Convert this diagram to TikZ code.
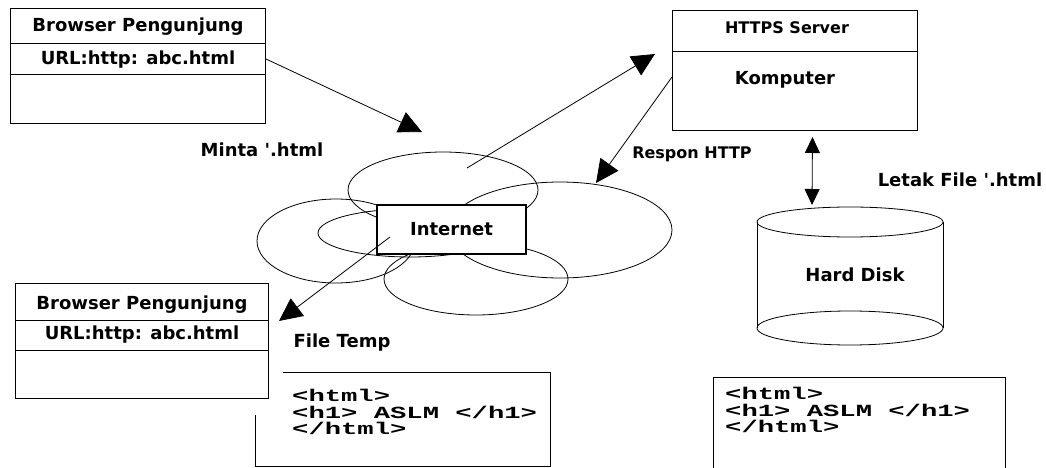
\documentclass[tikz,border=0pt]{standalone}
\usepackage{fontspec}
\setmainfont{DejaVu Sans}
\newfontfamily\codefont[FakeStretch=1.6]{Liberation Mono}
\usetikzlibrary{arrows.meta}

\begin{document}
\begin{tikzpicture}[
              x = 1pt, y = -1pt,
              panel/.style = {draw, line width=1pt, anchor=north west, inner sep=0pt},
              lbl/.style = {font=\bfseries\fontsize{18}{20}\selectfont, inner sep=0pt},
              small/.style = {lbl, font=\bfseries\fontsize{16}{18}\selectfont},
              code/.style = {font=\codefont\bfseries\fontsize{17}{16.5}\selectfont,
                             align=left, anchor=north west, inner sep=0pt},
              blob/.style = {draw, line width=0.8pt},
              msg/.style = {draw, line width=0.8pt, -{Triangle[length=23pt,width=22pt]}},
              link/.style = {draw, line width=0.8pt,
                             {Triangle[length=16pt,width=15pt]}-{Triangle[length=16pt,width=15pt]}}
            ]
            \useasboundingbox (0,0) rectangle (1046,468);

            % browser (request side)
            \node[panel, minimum width=255pt, minimum height=115pt] (brwtop) at (10,8) {};
            \draw[line width=1pt] ([yshift=-36pt]brwtop.north west) -- ([yshift=-36pt]brwtop.north east);
            \draw[line width=1pt] ([yshift=-67pt]brwtop.north west) -- ([yshift=-67pt]brwtop.north east);
            \node[lbl] (brwtoptitle) at ([yshift=-19pt]brwtop.north) {Browser Pengunjung};
            \node[lbl] (brwtopurl) at ([yshift=-52pt]brwtop.north) {URL:http: abc.html};

            % browser (result side)
            \node[panel, minimum width=253pt, minimum height=115pt] (brwbot) at (15,283) {};
            \draw[line width=1pt] ([yshift=-37pt]brwbot.north west) -- ([yshift=-37pt]brwbot.north east);
            \draw[line width=1pt] ([yshift=-67pt]brwbot.north west) -- ([yshift=-67pt]brwbot.north east);
            \node[lbl] (brwbottitle) at ([yshift=-22pt]brwbot.north) {Browser Pengunjung};
            \node[lbl] (brwboturl) at ([yshift=-52pt]brwbot.north) {URL:http: abc.html};

            % server
            \node[panel, minimum width=245pt, minimum height=120pt] (sv) at (672,10) {};
            \draw[line width=1pt] ([yshift=-42pt]sv.north west) -- ([yshift=-42pt]sv.north east);
            \node[small] (svtitle) at ([xshift=-8pt,yshift=-18pt]sv.north) {HTTPS Server};
            \node[lbl] (svpc) at ([xshift=-10pt,yshift=-70pt]sv.north) {Komputer};

            % internet cloud
            \draw[blob] (443,190) ellipse [x radius=95pt, y radius=38pt];
            \draw[blob] (336,241) ellipse [x radius=79pt, y radius=42pt];
            \draw[blob] (410,233) ellipse [x radius=92pt, y radius=24pt];
            \draw[blob] (560,230) ellipse [x radius=112pt, y radius=48pt];
            \draw[blob] (476,279) ellipse [x radius=92pt, y radius=36pt];
            \node[lbl, draw, fill=white, line width=1.6pt, minimum width=149pt,
                  minimum height=49pt] (inet) at (451.5,229.5) {Internet};

            % hard disk
            \draw[line width=0.8pt] (757,222) -- (757,328) (943,222) -- (943,328);
            \draw[line width=0.8pt] (850,222) ellipse [x radius=93pt, y radius=15pt];
            \draw[line width=0.8pt] (850,328) ellipse [x radius=93pt, y radius=17pt];
            \node[lbl] (hd) at (855,275) {Hard Disk};

            % html files
            \draw[line width=1pt] (283,372) -- (550,372) -- (550,466) -- (255,466) -- (255,415);
            \node[code] (tmpcode) at (292,389) {<html>\\<h1> ASLM </h1>\\</html>};
            \draw[line width=1pt] (713,470) -- (713,377) -- (1005,377) -- (1005,470);
            \node[code] (diskcode) at (725,387) {<html>\\<h1> ASLM </h1>\\</html>};

            % connectors
            \coordinate (reqtip) at (422,132);
            \coordinate (cloudout) at (467,168);
            \coordinate (svin) at (655,54);
            \coordinate (respin) at (596,183);
            \coordinate (inetout) at (390,237);
            \coordinate (tmpin) at (279,321);
            \coordinate (disktop) at (812,205);
            \draw[msg] ([yshift=-51pt]brwtop.north east) -- (reqtip);
            \draw[msg] (cloudout) -- (svin);
            \draw[msg] ([yshift=-67pt]sv.north west) -- (respin);
            \draw[msg] (inetout) -- (tmpin);
            \draw[link] ([xshift=17.5pt,yshift=-6pt]sv.south) -- (disktop);

            % labels
            \node[lbl] (minta) at (262,150) {Minta \textquotesingle.html};
            \node[small] (respon) at (692,154) {Respon HTTP};
            \node[lbl] (letak) at (960,180) {Letak File \textquotesingle.html};
            \node[lbl] (ftemp) at (342,343) {File Temp};
          \end{tikzpicture}
\end{document}
